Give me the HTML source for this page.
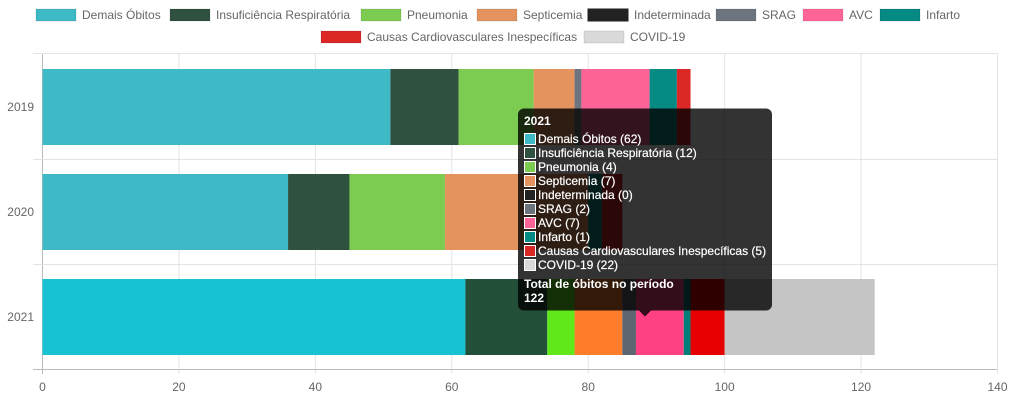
<!DOCTYPE html><html><head><meta charset="utf-8"><style>body{margin:0;background:#fff}svg{display:block;font-family:"Liberation Sans",Arial,sans-serif}</style></head><body>
<svg id="s" width="1012" height="400" xmlns="http://www.w3.org/2000/svg"></svg>
<script>
const s=document.getElementById('s');let h='';
const X=v=>42.5+v*955/140;
for(let i=0;i<=7;i++){const x=X(i*20);h+=`<line x1="${x}" y1="53" x2="${x}" y2="374" stroke="${i==0?'#bbb':'#e3e3e3'}"/>`;h+=`<text x="${x}" y="391" font-size="12" fill="#666" text-anchor="middle">${i*20}</text>`;}
[53,159,264,369].forEach((y,i)=>{h+=`<line x1="33" y1="${y+.5}" x2="997" y2="${y+.5}" stroke="${i==3?'#bbb':'#e3e3e3'}"/>`;});
const names=['Demais Óbitos','Insuficiência Respiratória','Pneumonia','Septicemia','Indeterminada','SRAG','AVC','Infarto','Causas Cardiovasculares Inespecíficas','COVID-19'];
const cols=['#3dbac6','#2f5140','#7ccc51','#e4935f','#222222','#6c757e','#fe6596','#068a84','#dc2727','#d9d9d9'];
const hov=['#17c2d3','#24503a','#60e81a','#fd7d2a','#111','#5c6670','#ff4184','#007d78','#e60000','#c5c5c5'];
const data=[[51,10,11,6,0,1,10,4,2,0],[36,9,14,21,0,0,0,2,3,0],[62,12,4,7,0,2,7,1,5,22]];
const ys=[69,174,279];
data.forEach((d,r)=>{let a=0;d.forEach((v,k)=>{if(v>0){h+=`<rect x="${X(a)}" y="${ys[r]}" width="${X(a+v)-X(a)}" height="76" fill="${r==2?hov[k]:cols[k]}"/>`;}a+=v;});
h+=`<text x="34" y="${ys[r]+42}" font-size="12" fill="#666" text-anchor="end">${2019+r}</text>`;});
const leg=[[36,15],[170,15],[361,15],[477,15],[588,15],[716,15],[803,15],[880,15],[321,37],[584,37]];
leg.forEach(([x,y],k)=>{h+=`<rect x="${x}" y="${y-6}" width="40" height="12" fill="${cols[k]}" stroke="${k==4?'#222':'rgba(0,0,0,0.1)'}"/>`;h+=`<text x="${x+46}" y="${y+4}" font-size="12" fill="#666">${names[k]}</text>`;});
h+=`<path d="M524 108.5h242a6 6 0 0 1 6 6v190a6 6 0 0 1-6 6H651l-6 6-6-6H524a6 6 0 0 1-6-6v-190a6 6 0 0 1 6-6z" fill="rgba(0,0,0,0.8)"/>`;
h+=`<text x="524" y="125" font-size="12" font-weight="bold" fill="#fff">2021</text>`;
const v=data[2];
names.forEach((n,k)=>{const y=133+k*14;h+=`<rect x="524.5" y="${y+.5}" width="11" height="11" fill="${cols[k]}" stroke="#fff"/>`;h+=`<text x="538" y="${y+10}" font-size="12" fill="#fff" stroke="#fff" stroke-width="0.2">${n} (${v[k]})</text>`;});
h+=`<text x="524" y="288" font-size="12" font-weight="bold" fill="#fff">Total de óbitos no período</text><text x="524" y="302" font-size="12" font-weight="bold" fill="#fff">122</text>`;
s.innerHTML=h;
</script></body></html>
